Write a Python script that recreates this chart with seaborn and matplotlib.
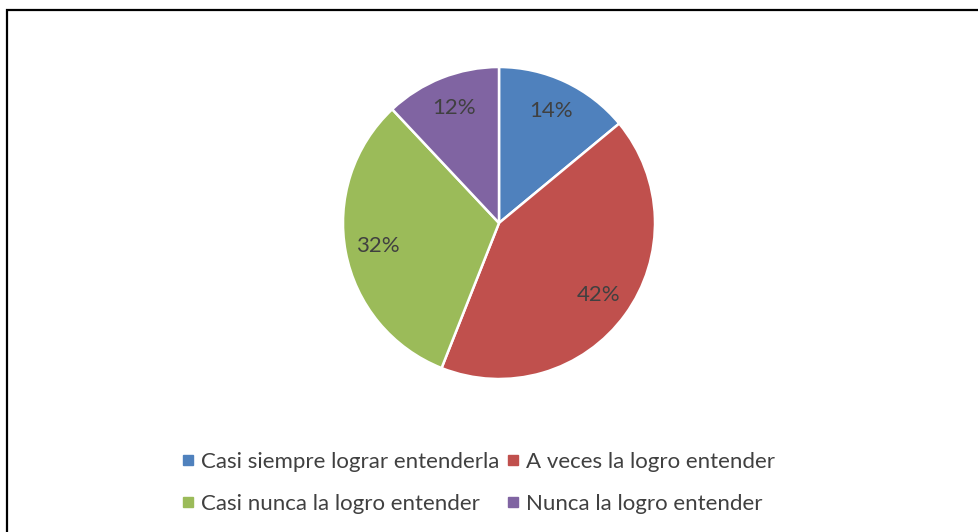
import seaborn as sns
import matplotlib
matplotlib.use("Agg")
import matplotlib.pyplot as plt
from matplotlib.lines import Line2D
from matplotlib.patches import Rectangle

# data
categories = ["Casi siempre lograr entenderla", "A veces la logro entender",
              "Casi nunca la logro entender", "Nunca la logro entender"]
values = [14, 42, 32, 12]
colors = ["#4F81BD", "#C0504D", "#9BBB59", "#8064A2"]

sns.set_theme(style="white")
plt.rcParams['font.family'] = ['Lato', 'DejaVu Sans']
text_color = "#404040"

W, H = 979, 532
fig = plt.figure(figsize=(W / 100, H / 100), dpi=100)
fig.patch.set_facecolor("white")

# pie centre / radius in pixels
cx, cy, r = 499, 223, 156
ax = fig.add_axes([(cx - r) / W, (H - cy - r) / H, 2 * r / W, 2 * r / H])
wedges, texts, autotexts = ax.pie(
    values, colors=colors, startangle=90, counterclock=False,
    autopct=lambda p: "%d%%" % round(p), pctdistance=0.79,
    wedgeprops=dict(edgecolor="white", linewidth=1.8),
    textprops=dict(color=text_color, fontsize=16))
ax.set_xlim(-1.0, 1.0)
ax.set_ylim(-1.0, 1.0)
ax.set_aspect("equal")
ax.axis("off")

# legend filled row by row
handles = [Line2D([], [], marker="s", linestyle="none", markersize=7,
                  markerfacecolor=c, markeredgecolor=c) for c in colors]
order = [0, 2, 1, 3]
leg = fig.legend([handles[i] for i in order], [categories[i] for i in order],
                 loc="center", bbox_to_anchor=(0.489, 0.092), ncol=2,
                 frameon=False, fontsize=16, handlelength=0.55,
                 handletextpad=0.3, columnspacing=0.35, labelspacing=1.0)
for t in leg.get_texts():
    t.set_color(text_color)

# chart border (right and bottom sides run off the picture)
fig.patches.append(Rectangle((7.5 / W, -0.1), 2, 1 - 9.5 / H + 0.1,
                             transform=fig.transFigure, fill=False,
                             edgecolor="black", linewidth=1.6))

fig.savefig("out.png", dpi=100)
